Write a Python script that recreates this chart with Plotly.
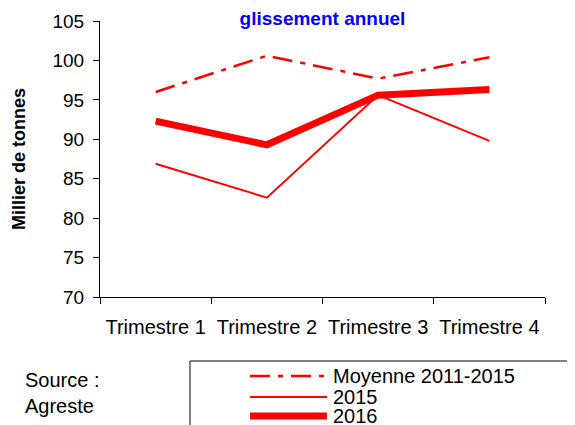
import plotly.graph_objects as go

categories = ["Trimestre 1", "Trimestre 2", "Trimestre 3", "Trimestre 4"]
moyenne = [96.0, 100.6, 97.7, 100.4]
y2015 = [86.9, 82.6, 95.6, 89.8]
y2016 = [92.3, 89.3, 95.6, 96.3]
y_ticks = [70, 75, 80, 85, 90, 95, 100, 105]

RED = "#FF0000"
FONT = "Liberation Sans, Arial, sans-serif"
DASHDOT = "20px,8px,5px,8px"

fig = go.Figure()
fig.add_trace(go.Scatter(x=categories, y=moyenne, mode="lines", name="Moyenne 2011-2015",
                         line=dict(color=RED, width=2.5, dash=DASHDOT)))
fig.add_trace(go.Scatter(x=categories, y=y2015, mode="lines", name="2015",
                         line=dict(color=RED, width=2)))
fig.add_trace(go.Scatter(x=categories, y=y2016, mode="lines", name="2016",
                         line=dict(color=RED, width=7)))

OFF = 8  # page body margin offset
W, H = 575 - OFF, 425 - OFF
L = 100 - OFF
T = 21 - OFF
R = W - (545 - OFF)
B = H - (297 - OFF)
pw, ph = W - L - R, H - T - B

def px(x):
    return (x - OFF - L) / pw

def py(y):
    return (H - B - (y - OFF)) / ph

shapes = [
    dict(type="rect", xref="paper", yref="paper", x0=px(190), x1=px(640), y0=py(361), y1=py(470),
         line=dict(color="black", width=1), fillcolor="rgba(0,0,0,0)"),
]
annotations = []
legend_rows = [("Moyenne 2011-2015", 376, 2.5, DASHDOT), ("2015", 397, 2, "solid"), ("2016", 416, 7, "solid")]
for label, yy, w, d in legend_rows:
    shapes.append(dict(type="line", xref="paper", yref="paper", x0=px(250), x1=px(327),
                       y0=py(yy), y1=py(yy), line=dict(color=RED, width=w, dash=d)))
    annotations.append(dict(text=label, xref="paper", yref="paper", x=px(331), y=py(yy),
                            xanchor="left", yanchor="middle", showarrow=False,
                            font=dict(size=20, color="black", family=FONT)))
annotations.append(dict(text="Source :", xref="paper", yref="paper", x=px(23), y=py(380),
                        xanchor="left", yanchor="middle", showarrow=False,
                        font=dict(size=20, color="black", family=FONT)))
annotations.append(dict(text="Agreste", xref="paper", yref="paper", x=px(23), y=py(406),
                        xanchor="left", yanchor="middle", showarrow=False,
                        font=dict(size=20, color="black", family=FONT)))

fig.update_layout(
    width=W, height=H,
    margin=dict(l=L, r=R, t=T, b=B),
    paper_bgcolor="white", plot_bgcolor="white",
    showlegend=False,
    font=dict(family=FONT, size=20, color="black"),
    title=dict(text="<b>glissement annuel</b>", x=0.5, xref="paper", xanchor="center",
               y=1 - (18 - OFF) / H, yref="container", yanchor="middle", automargin=False,
               font=dict(size=19, color="#0000FF", family=FONT)),
    shapes=shapes,
    annotations=annotations,
)
fig.update_xaxes(range=[-0.5, 3.5], showline=True, linecolor="black", linewidth=1, ticks="outside",
                 ticklen=6, tickcolor="black", tickson="boundaries", showgrid=False, zeroline=False,
                 ticklabelstandoff=12, tickfont=dict(size=20), automargin=False)
fig.update_yaxes(range=[70, 105], tickvals=y_ticks, showline=True, linecolor="black", linewidth=1,
                 ticks="outside", ticklen=6, tickcolor="black", showgrid=False, zeroline=False,
                 tickfont=dict(size=19), ticklabelstandoff=5, automargin=False,
                 title=dict(text="<b>Millier de tonnes</b>", standoff=22, font=dict(size=18)))

fig.write_html("out.html")
